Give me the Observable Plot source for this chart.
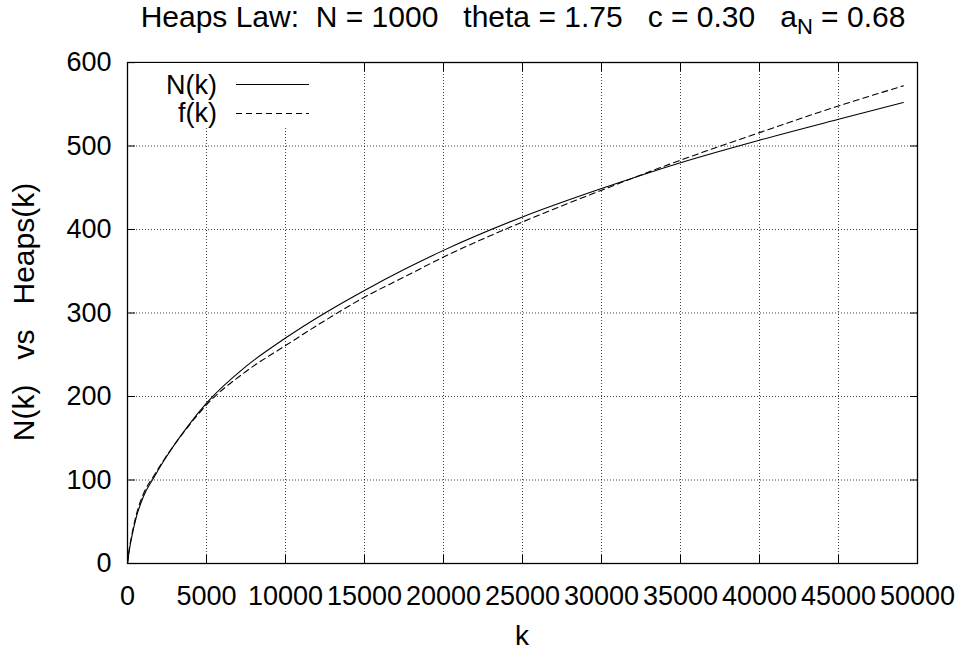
<!DOCTYPE html>
<html><head><meta charset="utf-8">
<script src="https://cdn.jsdelivr.net/npm/d3@7"></script>
<script src="https://cdn.jsdelivr.net/npm/@observablehq/plot@0.6"></script>
<style>
body{margin:0;background:#fff;}
#wrap{position:relative;width:962px;height:657px;font-family:"Liberation Sans",Arial,sans-serif;color:#000;overflow:hidden;}
.abs{position:absolute;white-space:pre;font-size:27px;line-height:27px;}
#wrap svg{display:block;}
</style></head><body><div id="wrap"></div>
<script>
// Values
const kValues = [0, 100, 250, 550, 1000, 1700, 2300, 3800, 5000, 7500, 10000, 12500, 15000, 17500, 20000, 25000, 30000, 35000, 40000, 45000, 49100];
const nValues = [0, 14, 30, 55, 80, 104, 123, 164, 192, 236, 270, 300, 327, 352, 375, 415, 449, 480, 507, 532, 552];
const fValues = [0, 16, 32, 58, 83, 106, 124, 163, 190, 230, 261, 291, 319, 343, 367, 409, 447, 483, 516, 548, 572];
const xTicks = [0, 5000, 10000, 15000, 20000, 25000, 30000, 35000, 40000, 45000, 50000];
const yTicks = [0, 100, 200, 300, 400, 500, 600];
const seriesNames = ["N(k)", "f(k)"];
const titleText = "Heaps Law:  N = 1000   theta = 1.75   c = 0.30   a";
const titleSub = "N";
const titleEnd = " = 0.68";
const xLabel = "k";
const yLabel = "N(k)   vs   Heaps(k)";

const nRows = kValues.map((k, i) => ({k, v: nValues[i], s: seriesNames[0]}));
const fRows = kValues.map((k, i) => ({k, v: fValues[i], s: seriesNames[1]}));

const grid = {stroke: "#000", strokeWidth: 1, strokeDasharray: "1,2", strokeOpacity: 0.75};

const chart = Plot.plot({
  width: 962, height: 657,
  marginLeft: 127, marginRight: 45, marginTop: 62, marginBottom: 94,
  style: {fontFamily: "'Liberation Sans', Arial, sans-serif", fontSize: "27px", color: "#000", background: "#fff"},
  x: {domain: [0, 50000]},
  y: {domain: [0, 600]},
  marks: [
    Plot.ruleX(xTicks, grid),
    Plot.ruleY(yTicks, grid),
    Plot.line(nRows, {x: "k", y: "v", stroke: "#000", strokeWidth: 1.1, curve: "monotone-x"}),
    Plot.line(fRows, {x: "k", y: "v", stroke: "#000", strokeWidth: 1.1, strokeDasharray: "6,4", curve: "monotone-x"}),
    Plot.frame({stroke: "#000", strokeWidth: 1.3}),
    Plot.axisX(xTicks, {anchor: "bottom", tickSize: -8, tickPadding: 30, tickFormat: d => String(d), label: null, fontSize: 27}),
    Plot.axisX(xTicks, {anchor: "top", tickSize: -8, tickFormat: () => "", label: null}),
    Plot.axisY(yTicks, {anchor: "left", tickSize: -8, tickPadding: 24, tickFormat: d => String(d), label: null, fontSize: 27}),
    Plot.axisY(yTicks, {anchor: "right", tickSize: -8, tickFormat: () => "", label: null})
  ]
});

const wrap = document.getElementById("wrap");
wrap.appendChild(chart);

function addDiv(html, css) {
  const d = document.createElement("div");
  d.className = "abs";
  d.innerHTML = html;
  Object.assign(d.style, css);
  wrap.appendChild(d);
  return d;
}
// title
addDiv(titleText + '<span style="font-size:22px;position:relative;top:7px;">' + titleSub + '</span>' + titleEnd,
  {left: "523px", top: "2px", fontSize: "30px", lineHeight: "30px", transform: "translateX(-50%)"});
// x label
addDiv(xLabel, {left: "522px", top: "622px", fontSize: "28px", lineHeight: "28px", transform: "translateX(-50%)"});
// y label
addDiv(yLabel, {left: "24px", top: "312px", fontSize: "30px", lineHeight: "30px", transform: "translate(-50%,-50%) rotate(-90deg)"});
// legend box
const box = document.createElement("div");
Object.assign(box.style, {position: "absolute", left: "135px", top: "63px", width: "185px", height: "65px", background: "#fff"});
wrap.appendChild(box);
addDiv(seriesNames[0], {left: "117px", width: "100px", textAlign: "right", top: "72px"});
addDiv(seriesNames[1], {left: "117px", width: "100px", textAlign: "right", top: "100px"});
const ns = "http://www.w3.org/2000/svg";
const lg = document.createElementNS(ns, "svg");
lg.setAttribute("width", "80"); lg.setAttribute("height", "40");
Object.assign(lg.style, {position: "absolute", left: "234px", top: "78px"});
[[6.5, null], [35.5, "6,4"]].forEach(([y, dash]) => {
  const l = document.createElementNS(ns, "line");
  l.setAttribute("x1", 2); l.setAttribute("x2", 75);
  l.setAttribute("y1", y); l.setAttribute("y2", y);
  l.setAttribute("stroke", "#000"); l.setAttribute("stroke-width", "1.1");
  if (dash) l.setAttribute("stroke-dasharray", dash);
  lg.appendChild(l);
});
wrap.appendChild(lg);
</script>
</body></html>
